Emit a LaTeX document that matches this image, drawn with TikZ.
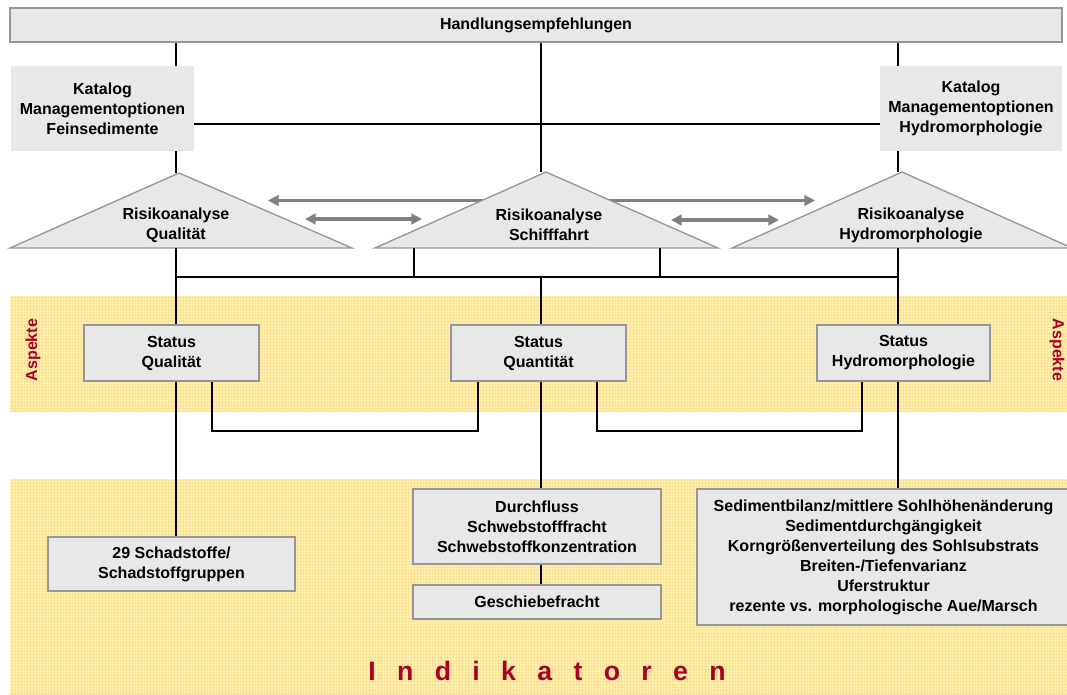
\documentclass[tikz,border=0pt]{standalone}
\usepackage{fontspec}
\setmainfont{Liberation Sans}
\usetikzlibrary{arrows.meta}
\definecolor{boxfill}{RGB}{232,232,232}
\definecolor{boxline}{RGB}{150,150,150}
\definecolor{arrowgray}{RGB}{128,128,128}
\definecolor{band}{RGB}{255,240,176}
\definecolor{bandgrid}{RGB}{250,226,150}
\definecolor{darkred}{RGB}{170,0,35}
\def\pxu{0.75pt}
\begin{document}
\begin{tikzpicture}[x=0.75pt,y=-0.75pt,
  every node/.style={font=\fontsize{12}{15}\selectfont\bfseries, align=center, inner sep=0pt},
  box/.style={draw=boxline, line width=1.2pt, fill=boxfill},
  katbox/.style={fill=boxfill},
  tri/.style={draw=boxline, line width=1pt, fill=boxfill},
  wire/.style={line width=0.8pt, black},
  dbl/.style={arrowgray, line width=2.8pt, {Triangle[length=8pt,width=8pt]}-{Triangle[length=8pt,width=8pt]}},
  gridlines/.style={bandgrid, line width=0.3pt, step=2.25pt},
  redlbl/.style={text=darkred}
]
\useasboundingbox (0,0) rectangle (1067,695);

% background bands with a fine grid texture
\fill[band] (10,296) rectangle (1067,412);
\fill[band] (10,479) rectangle (1067,695);
\begin{scope}
  \clip (10,296) rectangle (1067,412);
  \draw[gridlines] (10,296) grid (1067,412);
\end{scope}
\begin{scope}
  \clip (10,479) rectangle (1067,695);
  \draw[gridlines] (10,479) grid (1067,695);
\end{scope}

% column positions
\coordinate (cL) at (176,0);
\coordinate (cM) at (541,0);
\coordinate (cR) at (898,0);

% double arrows between the risk analyses (behind the triangles)
\coordinate (a1l) at (268,200.5); \coordinate (a1r) at (815,200.5);
\coordinate (a2l) at (305,219);   \coordinate (a2r) at (422,219);
\coordinate (a3l) at (671,220);   \coordinate (a3r) at (779,220);
\draw[dbl] (a1l) -- (a1r);
\draw[dbl] (a2l) -- (a2r);
\draw[dbl] (a3l) -- (a3r);

% risk analysis triangles
\coordinate (tLa) at (179,173); \coordinate (tLl) at (10,248);  \coordinate (tLr) at (352,248);
\coordinate (tMa) at (546,172); \coordinate (tMl) at (375,248); \coordinate (tMr) at (718,248);
\coordinate (tRa) at (902,172); \coordinate (tRl) at (732,248); \coordinate (tRr) at (1072,248);
\filldraw[tri] (tLa) -- (tLr) -- (tLl) -- cycle;
\filldraw[tri] (tMa) -- (tMr) -- (tMl) -- cycle;
\filldraw[tri] (tRa) -- (tRr) -- (tRl) -- cycle;
\node (riskL) at (176,225) {Risikoanalyse\\Qualität};
\node (riskM) at (549,225) {Risikoanalyse\\Schifffahrt};
\node (riskR) at (911,225) {Risikoanalyse\\Hydromorphologie};

% boxes
\node[box, minimum width=1052*\pxu, minimum height=34*\pxu] (top) at (536,25) {Handlungsempfehlungen};
\node[katbox, minimum width=183*\pxu, minimum height=85*\pxu] (katL) at (102.5,108.5) {Katalog\\Managementoptionen\\Feinsedimente};
\node[katbox, minimum width=182*\pxu, minimum height=85*\pxu] (katR) at (971,108.5) {Katalog\\Managementoptionen\\Hydromorphologie};

\node[box, minimum width=175*\pxu, minimum height=56*\pxu] (stQ) at (171.5,353) {Status\\Qualität};
\node[box, minimum width=175*\pxu, minimum height=56*\pxu] (stM) at (538.5,353) {Status\\Quantität};
\node[box, minimum width=173*\pxu, minimum height=56*\pxu] (stH) at (903.5,353) {Status\\Hydromorphologie};

\node[box, minimum width=247*\pxu, minimum height=54*\pxu] (schad) at (171.5,564) {29 Schadstoffe/\\Schadstoffgruppen};
\node[box, minimum width=248*\pxu, minimum height=75*\pxu] (durch) at (537,526.5) {Durchfluss\\Schwebstofffracht\\Schwebstoffkonzentration};
\node[box, minimum width=248*\pxu, minimum height=34*\pxu] (gesch) at (537,602) {Geschiebefracht};
\node[box, minimum width=373*\pxu, minimum height=136*\pxu] (sed) at (883.5,557) {Sedimentbilanz/mittlere Sohlhöhenänderung\\Sedimentdurchgängigkeit\\Korngrößenverteilung des Sohlsubstrats\\Breiten-/Tiefenvarianz\\Uferstruktur\\rezente vs. morphologische Aue/Marsch};

% connectors: top part
\draw[wire] (top.south -| cL) -- (katL.north -| cL);
\draw[wire] (katL.south -| cL) -- (tLa -| cL);
\draw[wire] (top.south -| cM) -- (tMa -| cM);
\draw[wire] (top.south -| cR) -- (katR.north -| cR);
\draw[wire] (katR.south -| cR) -- (tRa -| cR);
\coordinate (hk) at (0,124);
\draw[wire] (katL.east |- hk) -- (katR.west |- hk);

% connectors: risk analyses to status
\coordinate (bus) at (0,277);
\coordinate (d1) at (414,0);
\coordinate (d2) at (660,0);
\draw[wire] (tLl -| cL) -- (stQ.north -| cL);
\draw[wire] (bus -| cL) -- (bus -| cR);
\draw[wire] (tMl -| d1) -- (bus -| d1);
\draw[wire] (tMl -| d2) -- (bus -| d2);
\draw[wire] (bus -| cM) -- (stM.north -| cM);
\draw[wire] (tRl -| cR) -- (stH.north -| cR);

% connectors between status boxes
\coordinate (lk) at (0,431);
\coordinate (k1) at (212,0);
\coordinate (k2) at (478,0);
\coordinate (k3) at (597,0);
\coordinate (k4) at (862,0);
\draw[wire] (stQ.south -| k1) -- (lk -| k1) -- (lk -| k2) -- (stM.south -| k2);
\draw[wire] (stM.south -| k3) -- (lk -| k3) -- (lk -| k4) -- (stH.south -| k4);

% connectors: status to indicators
\draw[wire] (stQ.south -| cL) -- (schad.north -| cL);
\draw[wire] (stM.south -| cM) -- (durch.north -| cM);
\draw[wire] (stH.south -| cR) -- (sed.north -| cR);
\draw[wire] (durch.south -| cM) -- (gesch.north -| cM);

% band labels
\node[redlbl, rotate=90] (aspL) at (33,350) {Aspekte};
\node[redlbl, rotate=-90] (aspR) at (1057,350) {Aspekte};
\node[redlbl, font=\fontsize{20}{24}\selectfont\bfseries] (ind) at (547,671)
  {I\hskip16pt n\hskip16pt d\hskip16pt i\hskip16pt k\hskip16pt a\hskip16pt t\hskip16pt o\hskip16pt r\hskip16pt e\hskip16pt n};
\end{tikzpicture}
\end{document}
